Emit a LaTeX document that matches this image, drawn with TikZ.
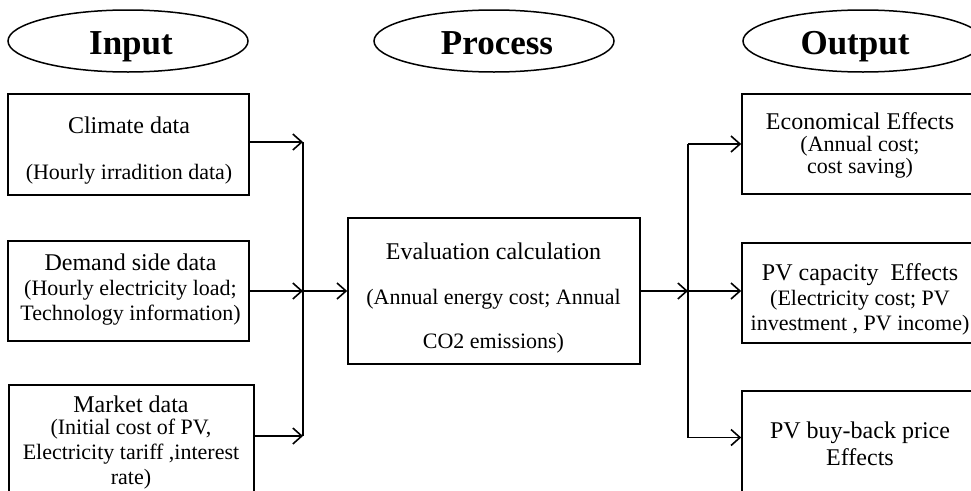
\documentclass[tikz,border=0pt]{standalone}
\usepackage{fontspec}
\setmainfont{Liberation Serif}
\usetikzlibrary{arrows.meta,shapes.geometric}
\newcommand{\ttl}{\fontsize{24}{25}\selectfont}
\newcommand{\dtl}{\fontsize{22}{25}\selectfont}
\tikzset{
  head/.style={ellipse, draw, line width=1.5pt, minimum width=240pt, minimum height=62pt, inner sep=0pt},
  headtxt/.style={anchor=base, inner sep=0pt, font=\fontsize{35}{40}\selectfont\bfseries},
  stepbox/.style={draw, line width=1.6pt, rectangle, inner sep=0pt},
  boxtxt/.style={inner sep=0pt, align=center, font=\dtl},
  arr/.style={line width=1.6pt, -{Straight Barb[length=9pt,width=16pt]}},
  ln/.style={line width=1.6pt}
}
\begin{document}
\begin{tikzpicture}[x=1pt,y=-1pt]
\path[use as bounding box, clip] (0,0) rectangle (971,490);
% headings
\node[head] (hin) at (128,41) {};
\node[head] (hpr) at (494,41) {};
\node[head] (hout) at (863,41) {};
\node[headtxt] (hint) at (131,54) {Input};
\node[headtxt] (hprt) at (497,54) {Process};
\node[headtxt] (houtt) at (855,54) {Output};
% input boxes
\node[stepbox, minimum width=241pt, minimum height=101pt] (clim) at (128.5,144.5) {};
\node[boxtxt] (climt) at (129,150.5) {\ttl Climate data\\[21pt]\dtl (Hourly irradition data)};
\node[stepbox, minimum width=241pt, minimum height=100pt] (dem) at (128.5,291) {};
\node[boxtxt] (demt) at (130.5,290) {\ttl Demand side data\\\dtl (Hourly electricity load;\\Technology information)};
\node[stepbox, minimum width=245pt, minimum height=116pt] (mkt) at (131.5,443) {};
\node[boxtxt] (mktt) at (131,443) {\ttl Market data\\[-3pt]\dtl (Initial cost of PV,\\Electricity tariff ,interest\\rate)};
% process
\node[stepbox, minimum width=292pt, minimum height=146pt] (proc) at (494,291) {};
\node[boxtxt] (proct) at (493.5,298) {\ttl Evaluation calculation\\[20pt]\dtl (Annual energy cost; Annual\\[19pt]CO2 emissions)};
% outputs
\node[stepbox, minimum width=236pt, minimum height=100pt] (eco) at (860,144) {};
\node[boxtxt, font=\fontsize{22}{22}\selectfont] (ecot) at (860,145) {\fontsize{24}{22}\selectfont Economical Effects\\\fontsize{22}{22}\selectfont (Annual cost;\\cost saving)};
\node[stepbox, minimum width=236pt, minimum height=100pt] (pvc) at (860,293) {};
\node[boxtxt] (pvct) at (860,299) {\ttl PV capacity\ \ Effects\\\dtl (Electricity cost; PV\\investment , PV income)};
\node[stepbox, minimum width=236pt, minimum height=105pt] (bb) at (860,443.5) {};
\node[boxtxt, font=\fontsize{24}{27}\selectfont] (bbt) at (860,444) {PV buy-back price\\Effects};
% left collector
\coordinate (jL) at (303,0);
\coordinate (lt) at (303,142);
\coordinate (lb) at ([yshift=7pt]mkt.east -| jL);
\draw[ln] (lt) -- (lb);
\draw[arr] (clim.east |- lt) -- (lt);
\draw[arr] (dem.east) -- (dem.east -| jL);
\draw[arr] ([yshift=7pt]mkt.east) -- (lb);
\draw[arr] (dem.east -| jL) -- (dem.east -| proc.west);
% right distributor
\coordinate (jR) at (688,0);
\coordinate (rt) at (eco.west -| jR);
\coordinate (rb) at ([yshift=6pt]bb.west -| jR);
\draw[ln] (rt) -- (rb);
\draw[arr] (proc.east) -- (proc.east -| jR);
\draw[arr] (proc.east -| jR) -- (proc.east -| pvc.west);
\draw[arr] (rt) -- (eco.west);
\draw[arr] (rb) -- ([yshift=6pt]bb.west);
\end{tikzpicture}
\end{document}
